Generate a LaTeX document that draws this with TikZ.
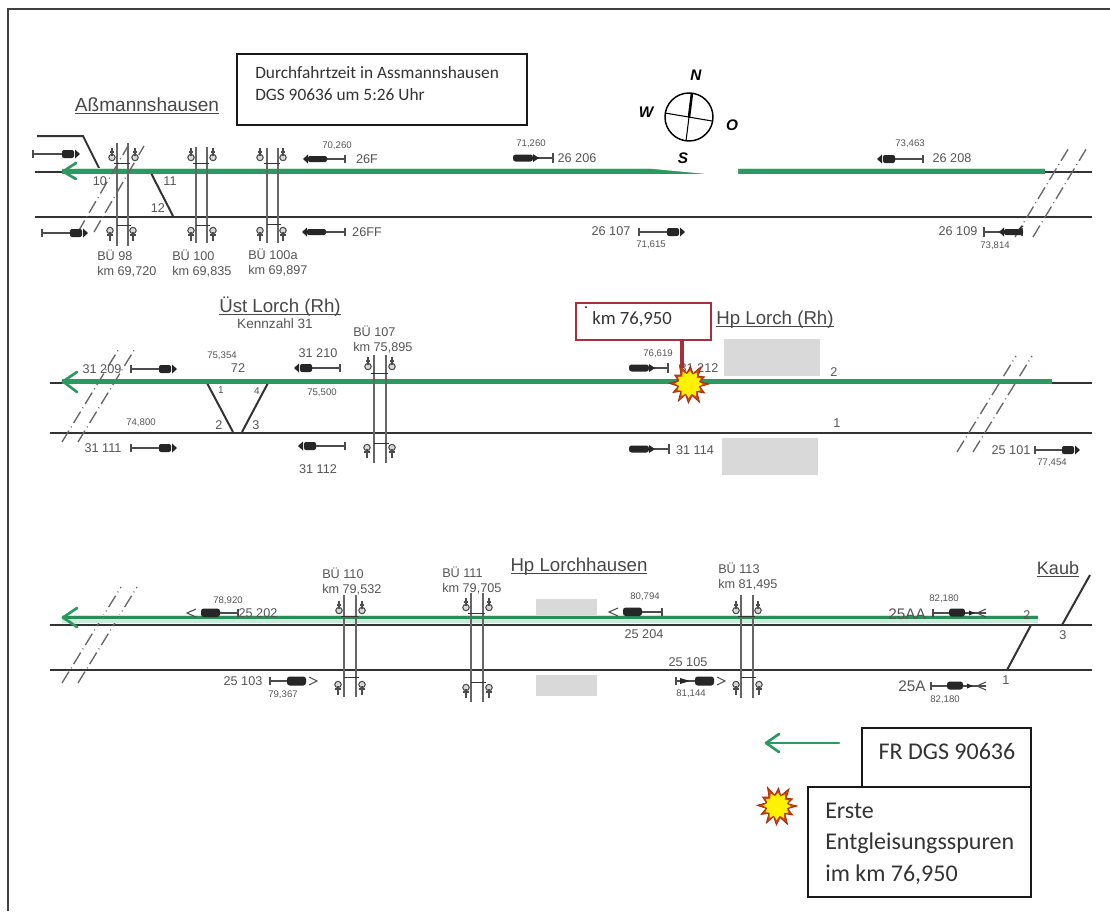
\documentclass[tikz,border=0pt]{standalone}
\usepackage{fontspec}
\setmainfont{Liberation Sans}
\newfontfamily\boxfont{Carlito}
\definecolor{gr}{HTML}{2A9A60}
\definecolor{glow}{HTML}{C8ECD9}
\definecolor{lbl}{HTML}{555555}
\definecolor{dred}{HTML}{A5303E}
\definecolor{grayrect}{HTML}{D9D9D9}
\definecolor{burstred}{HTML}{D8400F}
\tikzset{
  lab/.style={inner sep=0pt,text=lbl,font=\fontsize{9.5}{11}\selectfont},
  tiny/.style={inner sep=0pt,text=lbl,font=\fontsize{7.2}{8}\selectfont},
  ttl/.style={inner sep=0pt,text=black!72,font=\fontsize{14.3}{16}\selectfont},
  txtbox/.style={draw=black!90,line width=1.1pt,fill=white},
  boxtxt/.style={inner sep=0pt,anchor=west,text=black!80,font=\boxfont\fontsize{13}{15}\selectfont},
  legtxt/.style={inner sep=0pt,anchor=west,text=black!80,font=\boxfont\fontsize{18}{20}\selectfont},
  comp/.style={inner sep=0pt,text=black,font=\bfseries\itshape\fontsize{11.5}{13}\selectfont},
  track/.style={draw=black!80,line width=1.5pt},
  sw/.style={draw=black!80,line width=1.5pt},
  brk/.style={draw=black!60,line width=1pt,dash pattern=on 10pt off 3pt on .7pt off 3pt},
  sigl/.style={draw=black!70,line width=.8pt},
  gline/.style={draw=gr,line width=3pt},
  gthin/.style={draw=gr!92!black,line width=2.4pt},
  halo/.style={draw=glow,line width=6pt},
  gtip/.style={draw=gr,line width=2pt,line cap=round,line join=round},
  bu/.style={draw=black!60,line width=.9pt},
  grect/.style={fill=grayrect,draw=none},
}
\newcommand\ttltext[1]{\underline{\vphantom{x}\smash{#1}}}
% signals: bar on the left, tip on the right
\newcommand\sgR[3]{%
  \draw[sigl] (#1,#3-4) -- (#1,#3+4) (#1,#3) -- (#2-14,#3);
  \fill[black!85,rounded corners=1.5pt] (#2-18,#3-4) rectangle (#2-6,#3+4);
  \fill[black!85] (#2-5,#3-4.5) -- (#2,#3) -- (#2-5,#3+4.5) -- cycle;}
% tip on the left, bar on the right
\newcommand\sgL[3]{%
  \draw[sigl] (#2,#3-4) -- (#2,#3+4) (#2,#3) -- (#1+14,#3);
  \fill[black!85,rounded corners=1.5pt] (#1+6,#3-4) rectangle (#1+18,#3+4);
  \fill[black!85] (#1+5,#3-4.5) -- (#1,#3) -- (#1+5,#3+4.5) -- cycle;}
% long body with arrow beyond, tip left
\newcommand\sgLL[3]{%
  \draw[sigl] (#2,#3-4) -- (#2,#3+4) (#2,#3) -- (#1+6,#3);
  \fill[black!85,rounded corners=1.5pt] (#1+5,#3-3) rectangle (#1+24,#3+3);
  \fill[black!85] (#1+5,#3-4.5) -- (#1,#3) -- (#1+5,#3+4.5) -- cycle;}
% blob on the left, arrow towards the bar on the right
\newcommand\sgB[3]{%
  \draw[sigl] (#2,#3-5) -- (#2,#3+5) (#1+20,#3) -- (#2,#3);
  \fill[black!85,rounded corners=2pt] (#1,#3-3.5) rectangle (#1+20,#3+3.5);
  \fill[black!85] (#1+20,#3-4) -- (#1+26,#3) -- (#1+20,#3+4) -- cycle;}
% bar, blob and open chevron to the right
\newcommand\sgRc[3]{%
  \draw[sigl] (#1,#3-4) -- (#1,#3+4) (#1,#3) -- (#2-28,#3);
  \fill[black!85,rounded corners=2pt] (#2-30,#3-4.5) rectangle (#2-11,#3+4.5);
  \draw[sigl] (#2-8,#3-4) -- (#2,#3) -- (#2-8,#3+4);}
% open chevron to the left, blob, bar
\newcommand\sgLc[3]{%
  \draw[sigl] (#2,#3-4) -- (#2,#3+4) (#2,#3) -- (#1+30,#3);
  \fill[black!85,rounded corners=2pt] (#1+14,#3-4.5) rectangle (#1+33,#3+4);
  \draw[sigl] (#1+9,#3-4) -- (#1,#3) -- (#1+9,#3+4);}
% bar, blob, arrow, open chevron pointing back
\newcommand\sgRk[3]{%
  \draw[sigl] (#1,#3-4) -- (#1,#3+4) (#1,#3) -- (#2,#3);
  \fill[black!85,rounded corners=2pt] (#1+16,#3-4.5) rectangle (#1+32,#3+3.5);
  \fill[black!85] (#1+36,#3-2.5) -- (#1+42,#3) -- (#1+36,#3+2.5) -- cycle;
  \draw[sigl] (#2,#3-4) -- (#2-9,#3) -- (#2,#3+4);}
% level crossing: two rails and short bars
\newcommand\bue[6]{%
  \draw[bu] (#1,#3) -- (#1,#4) (#2,#3) -- (#2,#4);
  \draw[black!80,line width=.7pt] (#1-3,#5) -- (#2+2,#5) (#1,#6) -- (#2+3,#6);}
% bells above and below
\newcommand\bellU[2]{%
  \draw[sigl,fill=black!15] (#1,#2+2.5) circle[radius=3.2];
  \draw[sigl] (#1,#2-7) -- (#1,#2+1) (#1-2,#2-3) -- (#1+2,#2-3);}
\newcommand\bellD[2]{%
  \draw[sigl,fill=black!15] (#1,#2-2.5) circle[radius=3.2];
  \draw[sigl] (#1,#2-1) -- (#1,#2+8) (#1-3,#2+2) -- (#1+3,#2+2);}
% track break: two parallel dashed strokes
\newcommand\brkl[5]{%
  \draw[brk] (#1,#2) -- (#3,#4);
  \draw[brk] (#1+#5,#2) -- (#3+#5,#4);}
% irregular burst
\newcommand\burstat[2]{%
  \begin{scope}[shift={(#1,#2)}]
  \filldraw[fill=burstred,draw=burstred!75!black,line width=.6pt,line join=miter]
    (0:20) -- (14:11) -- (30:18) -- (44:11) -- (60:21) -- (75:12) -- (92:19) -- (108:11) -- (122:20)
    -- (138:11) -- (152:18) -- (168:11) -- (182:20) -- (197:11) -- (212:17) -- (228:12) -- (243:21)
    -- (258:11) -- (275:18) -- (290:11) -- (305:21) -- (320:12) -- (335:17) -- (348:11) -- cycle;
  \fill[yellow] (0:14) -- (14:10) -- (30:13) -- (44:10) -- (60:14) -- (75:10) -- (92:14) -- (108:10) -- (122:14)
    -- (138:10) -- (152:13) -- (168:10) -- (182:14) -- (197:10) -- (212:13) -- (228:10) -- (243:14)
    -- (258:10) -- (275:13) -- (290:10) -- (305:14) -- (320:10) -- (335:13) -- (348:10) -- cycle;
  \end{scope}}
\begin{document}
\begin{tikzpicture}[x=0.75pt,y=-0.75pt]
\useasboundingbox (0,0) rectangle (1110,911);
\fill[white] (0,0) rectangle (1110,911);
% page frame (top and left only)
\draw[black!75,line width=1.6pt] (1110,9) -- (8,9) -- (8,911);

% ---------- row 1 tracks
\draw[track] (37,136) -- (83,136) -- (100,170);
\draw[track] (35,172) -- (1092,172);
\draw[track] (35,216.5) -- (1092,216.5);
\draw[sw] (151,173) -- (173,216);
\draw[halo,line width=3pt] (75,169.5) -- (1045,169.5);
\draw[gline,line width=3.4pt] (62,171.5) -- (1045,171.5);
\draw[gtip] (76,163) -- (63,171.5) -- (76,179);
\brkl{78}{232}{128}{146}{16}
\brkl{1015}{237}{1070}{146}{18}

% row 1 crossings
\bue{117}{128}{143}{246}{163}{225}
\bue{196}{207}{147}{243}{163}{225}
\bue{267}{278}{148}{243}{163}{224}
\bellU{112}{155}\bellU{135}{155}\bellU{191}{155}\bellU{213}{155}\bellU{260}{155}\bellU{283}{155}
\bellD{110}{233}\bellD{133}{233}\bellD{191}{233}\bellD{213}{233}\bellD{260}{233}\bellD{283}{233}

% row 1 signals
\sgR{33}{80}{154}
\sgR{42}{88}{233}
\sgLL{303}{345}{159}
\sgLL{302}{345}{232}
\sgB{513}{553}{158}
\sgL{877}{923}{159}
\sgR{639}{685}{232}
\draw[sigl] (984,227) -- (984,237) (984,232) -- (1000,232);
\sgLL{999}{1022}{232}
\draw[track,line width=.9pt] (1018,230) -- (1023,226);

% row 1 labels
\node[ttl] (tAss) at (147,108) {\ttltext{Aßmannshausen}};
\node[lab] (n10) at (100,181) {10};
\node[lab] (n11) at (170,181) {11};
\node[lab] (n12) at (158,208) {12};
\node[lab,align=left,anchor=north west] (b98) at (97,250) {BÜ 98\\km 69,720};
\node[lab,align=left,anchor=north west] (b100) at (172,250) {BÜ 100\\km 69,835};
\node[lab,align=left,anchor=north west] (b100a) at (248,249) {BÜ 100a\\km 69,897};
\node[tiny] (k70) at (337,146) {70,260};
\node[lab] (n26F) at (367,159) {26F};
\node[lab] (n26FF) at (367,232) {26FF};
\node[tiny] (k71) at (531,144) {71,260};
\node[lab] (n26206) at (577,158) {26 206};
\node[tiny] (k73) at (910,144) {73,463};
\node[lab] (n26208) at (952,158) {26 208};
\node[lab] (n26107) at (611,231) {26 107};
\node[tiny] (k71b) at (651,245) {71,615};
\node[lab] (n26109) at (958,231) {26 109};
\node[tiny] (k73b) at (995,246) {73,814};

% compass with white patch
\fill[white] (643,57) -- (754,70) -- (738,165) -- (738,177) -- (654,169) -- (627,160) -- cycle;
\draw[black,line width=1.1pt] (689,117) circle[radius=24];
\draw[black,line width=1.9pt] (692,93) -- (689,117);
\draw[black,line width=.8pt] (689,117) -- (686,141) (665,113) -- (712,121);
\node[comp] (cN) at (696,75) {N};
\node[comp] (cW) at (646,112) {W};
\node[comp] (cO) at (732,125) {O};
\node[comp] (cS) at (683,158) {S};

% top text box
\draw[txtbox] (237,54) rectangle (527,125);
\node[boxtxt] (bx1) at (255,73) {Durchfahrtzeit in Assmannshausen};
\node[boxtxt] (bx2) at (255,95) {DGS 90636 um 5:26 Uhr};

% ---------- row 2
\draw[track] (50,382.5) -- (1092,382.5);
\draw[track] (50,432.5) -- (1092,432.5);
\draw[sw] (207,383) -- (233,432);
\draw[sw] (268,383) -- (242,432);
\brkl{62}{442}{120}{347}{16}
\brkl{957}{452}{1016}{356}{16}
\draw[gline,line width=3.8pt] (62,381.5) -- (1052,381.5);
\draw[gtip] (77,372) -- (63,381.5) -- (77,392);

\fill[grect] (724,339) rectangle (820,376);
\fill[grect] (721.5,438) rectangle (818,475);

\bue{374}{386}{355}{463}{373}{443}
\bellU{368}{364}\bellU{392}{364}\bellD{367}{450}\bellD{392}{450}

\sgR{131}{177}{369}
\sgL{294}{340}{368}
\sgR{131}{177}{448}
\sgL{298}{345}{446}
\sgB{629}{668}{368}
\sgB{629}{669}{449}
\sgR{1035}{1080}{450}

\node[ttl,font=\fontsize{14}{16}\selectfont] (tUest) at (280,309) {\ttltext{Üst Lorch (Rh)}};
\node[lab,font=\fontsize{10.2}{12}\selectfont] (tKenn) at (275,324) {Kennzahl 31};
\node[lab,align=left,anchor=north west] (b107) at (353,326) {BÜ 107\\km 75,895};
\node[lab] (n31209) at (102,369) {31 209};
\node[tiny] (k75a) at (222,356) {75,354};
\node[lab] (n72) at (238,368) {72};
\node[tiny,font=\fontsize{7.5}{9}\selectfont] (s1) at (221,390) {1};
\node[tiny,font=\fontsize{7.5}{9}\selectfont] (s4) at (257,391) {4};
\node[lab] (s2) at (219,425) {2};
\node[lab] (s3) at (256,425) {3};
\node[lab] (n31210) at (318,353) {31 210};
\node[tiny] (k75b) at (322,393) {75,500};
\node[tiny] (k74) at (141,423) {74,800};
\node[lab] (n31111) at (103,448) {31 111};
\node[lab] (n31112) at (318,469) {31 112};
\node[tiny] (k76) at (658,354) {76,619};
\node[lab] (n31212) at (699,368) {31 212};
\node[ttl,font=\fontsize{14}{16}\selectfont] (tHpL) at (775,321) {\ttltext{Hp Lorch (Rh)}};
\node[lab] (n2) at (834,372) {2};
\node[lab] (n1) at (837,423) {1};
\node[lab] (n31114) at (695,450) {31 114};
\node[lab] (n25101) at (1011,450) {25 101};
\node[tiny] (k77) at (1052,463) {77,454};

% km marker and burst
\draw[draw=dred,line width=3pt] (682,340) -- (682,368);
\draw[draw=dred,line width=1.4pt,fill=white] (576,303) rectangle (711,340);
\node[boxtxt,font=\boxfont\fontsize{14}{16}\selectfont] (kmbox) at (592,319) {km 76,950};
\fill[black] (586,307) circle[radius=1];
\burstat{689}{384}

% ---------- row 3
\draw[track] (50,625) -- (1092,625);
\draw[track] (50,670) -- (1092,670);
\draw[sw] (1031,625) -- (1007,670);
\draw[sw] (1062,625) -- (1090,575);
\fill[grect] (536,599) rectangle (597,618);
\fill[grect] (536,675) rectangle (597,696);
\brkl{62}{683}{121}{587}{16}
\draw[halo] (62,618.5) -- (1038,618.5);
\draw[gthin] (62,617.5) -- (1038,617.5);
\draw[gtip] (77,608) -- (63,617.5) -- (77,627);

\bue{344}{356}{595}{697}{616}{677}
\bue{471}{483}{593}{702}{613}{682}
\bue{741}{753}{595}{698}{616}{677}
\bellU{339}{608}\bellU{362}{608}\bellD{338}{687}\bellD{362}{687}
\bellU{466}{605}\bellU{489}{605}\bellD{466}{690}\bellD{489}{690}
\bellU{736}{608}\bellU{758}{608}\bellD{736}{687}\bellD{759}{687}

\sgLc{187}{238}{613}
\sgRc{270}{317}{681}
\sgLc{609}{662}{612}
\sgRc{676}{725}{681}
\fill[black!85] (680,678) -- (690,681) -- (680,684) -- cycle;
\sgRk{933}{986}{613}
\sgRk{931}{986}{686}

\node[lab] (n25202) at (258,613) {25 202};
\node[tiny] (k78) at (228,601) {78,920};
\node[lab,align=left,anchor=north west] (b110) at (322,568) {BÜ 110\\km 79,532};
\node[lab,align=left,anchor=north west] (b111) at (442,567) {BÜ 111\\km 79,705};
\node[ttl,font=\fontsize{14}{16}\selectfont] (tHpLh) at (579,568) {\ttltext{Hp Lorchhausen}};
\node[lab] (n25103) at (243,681) {25 103};
\node[tiny] (k79) at (283,695) {79,367};
\node[tiny] (k80) at (645,597) {80,794};
\node[lab] (n25204) at (644,634) {25 204};
\node[lab,align=left,anchor=north west] (b113) at (718,563) {BÜ 113\\km 81,495};
\node[lab] (n25105) at (688,662) {25 105};
\node[tiny] (k81) at (691,694) {81,144};
\node[tiny] (k82a) at (944,599) {82,180};
\node[lab,font=\fontsize{11.5}{13}\selectfont] (n25AA) at (907,614) {25AA};
\node[lab,font=\fontsize{11.5}{13}\selectfont] (n25A) at (912,686) {25A};
\node[tiny] (k82b) at (945,700) {82,180};
\node[lab] (t2) at (1027,615) {2};
\node[lab] (t1) at (1006,680) {1};
\node[lab] (t3) at (1063,635) {3};
\node[ttl,font=\fontsize{13.5}{16}\selectfont] (tKaub) at (1058,571) {\ttltext{Kaub}};

% ---------- legend
\draw[gtip] (839,743) -- (766,743);
\draw[gtip] (779,734) -- (766,743) -- (779,752);
\draw[txtbox] (862,728) rectangle (1031,787);
\node[legtxt,anchor=center] (lg1) at (947,751) {FR DGS 90636};
\draw[txtbox] (808,787) rectangle (1031,897);
\node[legtxt] (lg2) at (825,811) {Erste};
\node[legtxt] (lg3) at (825,843) {Entgleisungsspuren};
\node[legtxt] (lg4) at (825,875) {im km 76,950};
\burstat{777}{806}
\end{tikzpicture}
\end{document}
